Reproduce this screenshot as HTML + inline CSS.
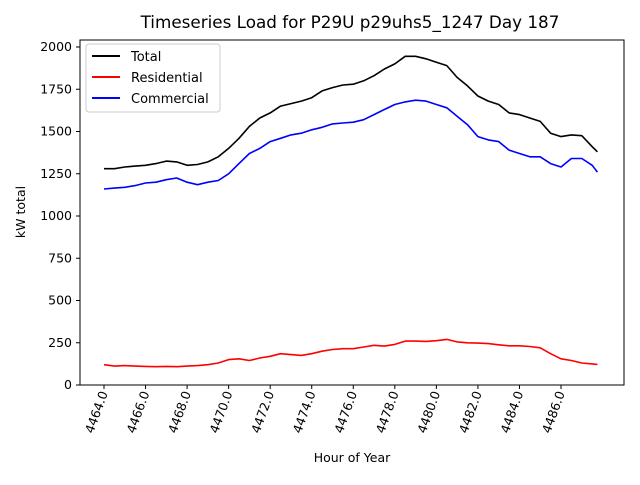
<!DOCTYPE html>
<html><head><meta charset="utf-8"><style>
body{margin:0;background:#fff;}
svg text{font-family:"DejaVu Sans","Liberation Sans",sans-serif;fill:#000;}
</style></head><body>
<svg id="chart" width="640" height="480" xmlns="http://www.w3.org/2000/svg">
<rect width="640" height="480" fill="#fff"/>
<text x="350" y="28" font-size="16.8" text-anchor="middle">Timeseries Load for P29U p29uhs5_1247  Day 187</text>
<g id="grid"></g>
<g id="series"></g>
<rect x="80" y="40" width="544" height="345" fill="none" stroke="#000" stroke-width="1"/>
<g id="axes"></g>
<text transform="translate(25,212) rotate(-90)" font-size="12.5" text-anchor="middle">kW total</text>
<text x="352" y="462" font-size="12.5" text-anchor="middle">Hour of Year</text>
<g>
<rect x="86" y="44" width="134" height="68" rx="3" fill="#fff" fill-opacity="0.8" stroke="#ccc"/>
<line x1="92" y1="56" x2="120" y2="56" stroke="#000" stroke-width="2"/>
<text x="131" y="61" font-size="13">Total</text>
<line x1="92" y1="77" x2="120" y2="77" stroke="#f00" stroke-width="2"/>
<text x="131" y="82" font-size="13">Residential</text>
<line x1="92" y1="98" x2="120" y2="98" stroke="#00f" stroke-width="2"/>
<text x="131" y="103" font-size="13">Commercial</text>
</g>
</svg>
<script>
const hours = [4464,4464.5,4465,4465.5,4466,4466.5,4467,4467.5,4468,4468.5,4469,4469.5,4470,4470.5,4471,4471.5,4472,4472.5,4473,4473.5,4474,4474.5,4475,4475.5,4476,4476.5,4477,4477.5,4478,4478.5,4479,4479.5,4480,4480.5,4481,4481.5,4482,4482.5,4483,4483.5,4484,4484.5,4485,4485.5,4486,4486.5,4487,4487.5,4487.75];
const total = [1280,1280,1290,1295,1300,1310,1325,1320,1300,1305,1320,1350,1400,1460,1530,1580,1610,1650,1665,1680,1700,1740,1760,1775,1780,1800,1830,1870,1900,1945,1945,1930,1910,1890,1820,1770,1710,1680,1660,1610,1600,1580,1560,1490,1470,1480,1475,1410,1380];
const residential = [120,112,115,112,110,108,110,108,112,115,120,130,150,155,145,160,170,185,180,175,185,200,210,215,215,225,235,230,240,260,260,258,262,270,255,250,248,245,238,232,232,228,220,185,155,145,130,125,122];
const commercial = [1160,1165,1170,1180,1195,1200,1215,1225,1200,1185,1200,1210,1250,1310,1370,1400,1440,1460,1480,1490,1510,1525,1545,1550,1555,1570,1600,1630,1660,1675,1685,1680,1660,1640,1590,1540,1470,1450,1440,1390,1370,1350,1350,1310,1290,1340,1340,1300,1260];
const yTicks = [0,250,500,750,1000,1250,1500,1750,2000];
const xTicks = [4464,4466,4468,4470,4472,4474,4476,4478,4480,4482,4484,4486];

const NS="http://www.w3.org/2000/svg";
const xs = h => 104 + (h-4464)*20.773;
const ys = v => 385 - v*0.169;
const axes=document.getElementById('axes'), series=document.getElementById('series');
function mk(tag,attrs,parent){const e=document.createElementNS(NS,tag);for(const k in attrs)e.setAttribute(k,attrs[k]);parent.appendChild(e);return e;}
yTicks.forEach(v=>{
  const y=ys(v);
  const t=mk('line',{x1:76,x2:80,y1:y,y2:y,stroke:'#000'},axes);
  
  
  const l=mk('text',{x:72,y:y+4,'font-size':12.5,'text-anchor':'end'},axes);
  l.textContent=v;
  
  
});
xTicks.forEach(h=>{
  const x=xs(h);
  const t=mk('line',{x1:x,x2:x,y1:385,y2:389,stroke:'#000'},axes);
  
  
  const l=mk('text',{transform:`translate(${x+4},393) rotate(-70)`,'font-size':12.5,'text-anchor':'end'},axes);
  l.textContent=h.toFixed(1);
  
  
});
[[total,'#000','total-line'],[residential,'#f00','residential-line'],[commercial,'#00f','commercial-line']].forEach(([d,c,n])=>{
  const pts=d.map((v,i)=>xs(hours[i]).toFixed(1)+','+ys(v).toFixed(1)).join(' ');
  const p=mk('polyline',{points:pts,fill:'none',stroke:c,'stroke-width':1.6,'stroke-linejoin':'round'},series);
  
  
});
</script>
</body></html>
